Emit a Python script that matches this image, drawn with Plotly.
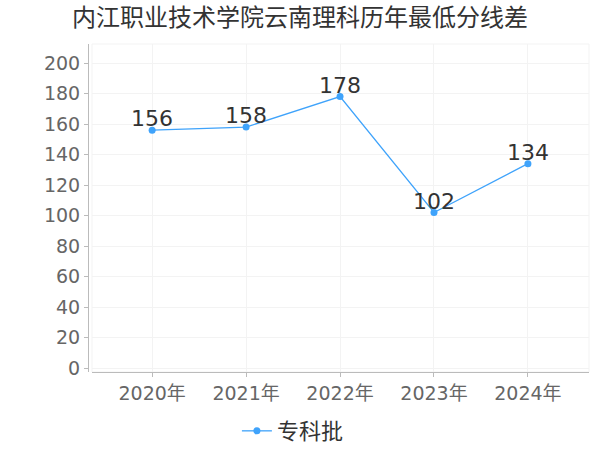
import plotly.graph_objects as go

title = "内江职业技术学院云南理科历年最低分线差"
years = ["2020年", "2021年", "2022年", "2023年", "2024年"]
series_name = "专科批"
values = [156, 158, 178, 102, 134]
y_ticks = [0, 20, 40, 60, 80, 100, 120, 140, 160, 180, 200]

FONT = "DejaVu Sans, Noto Sans CJK SC, sans-serif"
LINE = "#3fa3fb"

fig = go.Figure()
fig.add_trace(go.Scatter(
    x=years, y=values, name=series_name, mode="lines+markers",
    line=dict(color=LINE, width=1.3),
    marker=dict(color=LINE, size=7),
    cliponaxis=False,
))
for yr, v in zip(years, values):
    fig.add_annotation(x=yr, y=v, text=str(v), showarrow=False,
                       xanchor="center", yanchor="bottom", yshift=-3,
                       font=dict(size=22, color="#333333", family=FONT))

fig.update_layout(
    width=600, height=450,
    paper_bgcolor="white", plot_bgcolor="white",
    margin=dict(l=88, r=11, t=44, b=78, autoexpand=False),
    title=dict(text=title, x=0.5, xanchor="center", y=0.96, yanchor="middle",
               font=dict(size=24, color="#333333", family=FONT)),
    font=dict(family=FONT),
    showlegend=True,
    legend=dict(orientation="h", x=0.409, xanchor="center", y=-0.18, yanchor="middle",
                font=dict(size=22, color="#333333", family=FONT)),
    xaxis=dict(
        domain=[0.008, 1],
        range=[-0.64, 4.65],
        automargin=False,
        showgrid=True, gridcolor="#f3f3f3", gridwidth=1,
        showline=True, linecolor="#bbbbbb", linewidth=1,
        ticks="outside", ticklen=4, tickcolor="#bbbbbb",
        tickfont=dict(size=19, color="#666666", family=FONT),
        zeroline=False, fixedrange=True,
    ),
    yaxis=dict(
        anchor="free", position=0,
        range=[-2.6, 212.5],
        automargin=False,
        tickvals=y_ticks,
        showgrid=True, gridcolor="#f3f3f3", gridwidth=1,
        showline=True, linecolor="#bbbbbb", linewidth=1,
        ticks="outside", ticklen=4, tickcolor="#bbbbbb",
        tickfont=dict(size=19, color="#666666", family=FONT),
        zeroline=False, fixedrange=True,
    ),
)
fig.add_shape(type="rect", xref="x domain", yref="y domain", x0=0, x1=1, y0=0, y1=1,
              line=dict(color="#f3f3f3", width=1), layer="below")

fig.write_html("out.html", config={"displayModeBar": False},
               post_script="document.body.style.margin='0';")
